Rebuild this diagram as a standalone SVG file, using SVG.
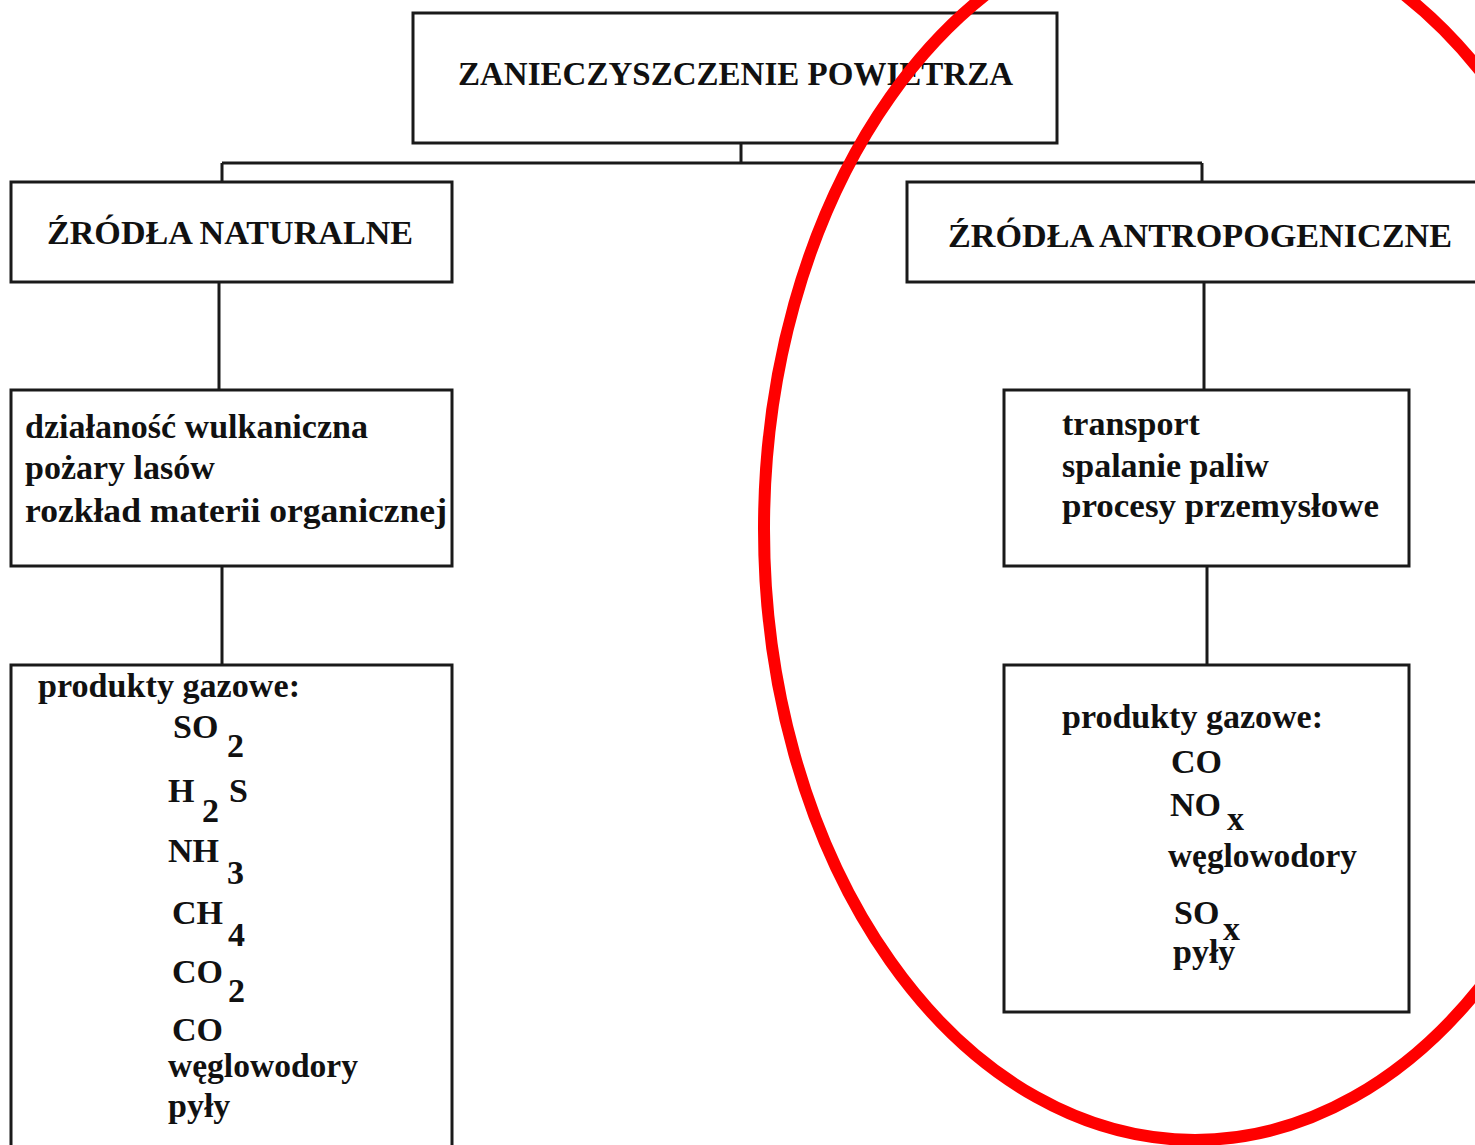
<svg xmlns="http://www.w3.org/2000/svg" width="1475" height="1145" viewBox="0 0 1475 1145">
<style>
.box{fill:#fff;stroke:#1a1a1a;stroke-width:3}
.ln{stroke:#1a1a1a;stroke-width:3;fill:none}
.t{font-family:"Liberation Serif","Times New Roman",serif;font-weight:bold;font-size:34px;fill:#111}
.hl{fill:none;stroke:#ff0000;stroke-width:12}
</style>
<rect width="1475" height="1145" fill="#fff"/>
<g id="connectors">
<path class="ln" d="M741 143V163M222 163H1202M222 163V182M1202 163V182"/>
<path class="ln" d="M219 282V390M222 566V665M1204 282V390M1207 566V665"/>
</g>
<g id="n-title">
<rect class="box" x="413" y="13" width="644" height="130"/>
<text class="t" x="458" y="85" textLength="555" lengthAdjust="spacingAndGlyphs">ZANIECZYSZCZENIE POWIETRZA</text>
</g>
<g id="n-naturalne">
<rect class="box" x="11" y="182" width="441" height="100"/>
<text class="t" x="47" y="244" textLength="366" lengthAdjust="spacingAndGlyphs">ŹRÓDŁA NATURALNE</text>
</g>
<g id="n-antropogeniczne">
<rect class="box" x="907" y="182" width="580" height="100"/>
<text class="t" x="948" y="247" textLength="504" lengthAdjust="spacingAndGlyphs">ŹRÓDŁA ANTROPOGENICZNE</text>
</g>
<g id="n-nat-zrodla">
<rect class="box" x="11" y="390" width="441" height="176"/>
<text class="t" x="25" y="438">działaność wulkaniczna</text>
<text class="t" x="25" y="479">pożary lasów</text>
<text class="t" x="25" y="522" textLength="422" lengthAdjust="spacingAndGlyphs">rozkład materii organicznej</text>
</g>
<g id="n-antro-zrodla">
<rect class="box" x="1004" y="390" width="405" height="176"/>
<text class="t" x="1062" y="435">transport</text>
<text class="t" x="1062" y="477">spalanie paliw</text>
<text class="t" x="1062" y="517" textLength="317" lengthAdjust="spacingAndGlyphs">procesy przemysłowe</text>
</g>
<g id="n-nat-produkty">
<rect class="box" x="11" y="665" width="441" height="500"/>
<text class="t" x="38" y="697" textLength="262" lengthAdjust="spacingAndGlyphs">produkty gazowe:</text>
<text class="t" x="173" y="738">SO</text><text class="t" x="227" y="757">2</text>
<text class="t" x="168" y="802">H</text><text class="t" x="202" y="822">2</text><text class="t" x="229" y="802">S</text>
<text class="t" x="168" y="862">NH</text><text class="t" x="227" y="884">3</text>
<text class="t" x="172" y="924">CH</text><text class="t" x="228" y="946">4</text>
<text class="t" x="172" y="983">CO</text><text class="t" x="228" y="1002">2</text>
<text class="t" x="172" y="1041">CO</text>
<text class="t" x="168" y="1077" textLength="190" lengthAdjust="spacingAndGlyphs">węglowodory</text>
<text class="t" x="168" y="1117">pyły</text>
</g>
<g id="n-antro-produkty">
<rect class="box" x="1004" y="665" width="405" height="347"/>
<text class="t" x="1062" y="728" textLength="261" lengthAdjust="spacingAndGlyphs">produkty gazowe:</text>
<text class="t" x="1171" y="773">CO</text>
<text class="t" x="1170" y="816">NO</text><text class="t" x="1227" y="830">x</text>
<text class="t" x="1168" y="867" textLength="189" lengthAdjust="spacingAndGlyphs">węglowodory</text>
<text class="t" x="1174" y="924">SO</text><text class="t" x="1223" y="940">x</text>
<text class="t" x="1173" y="963">pyły</text>
</g>
<ellipse class="hl" cx="1195" cy="529" rx="431" ry="611"/>
</svg>
